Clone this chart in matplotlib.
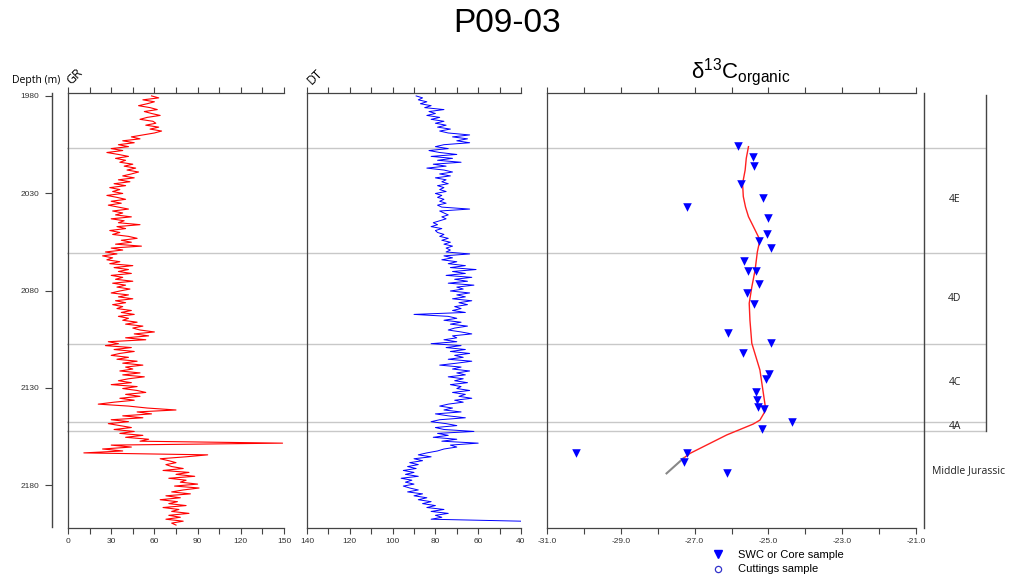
import numpy as np
import matplotlib.pyplot as plt
from matplotlib.ticker import MultipleLocator, FixedLocator, FormatStrFormatter
from matplotlib.lines import Line2D

plt.rcParams['font.family'] = ['Liberation Sans', 'DejaVu Sans']
plt.rcParams['mathtext.fontset'] = 'custom'
plt.rcParams['mathtext.rm'] = 'Liberation Sans'
plt.rcParams['axes.unicode_minus'] = False

# ---- data ------------------------------------------------------------------
# gamma ray (API), 1 m samples from 1980 m
gr = [58, 63, 52, 60, 55, 49, 57, 62, 53, 58,
      64, 55, 50, 59, 61, 54, 63, 57, 65, 60,
      52, 44, 50, 38, 46, 35, 42, 30, 38, 27,
      35, 42, 33, 40, 36, 45, 39, 47, 41, 49,
      44, 38, 46, 35, 43, 32, 40, 29, 36, 31,
      38, 27, 34, 40, 30, 37, 28, 35, 42, 31,
      38, 33, 44, 30, 39, 35, 50, 34, 40, 29,
      36, 31, 42, 48, 37, 44, 33, 51, 30, 38,
      26, 34, 24, 31, 27, 36, 29, 45, 32, 42,
      35, 44, 30, 38, 33, 45, 31, 40, 34, 43,
      36, 30, 42, 35, 45, 33, 40, 31, 38, 34,
      44, 37, 46, 35, 42, 38, 48, 40, 52, 45,
      50, 60, 46, 56, 40, 54, 28, 35, 26, 44,
      32, 46, 36, 30, 42, 34, 48, 38, 52, 40,
      45, 36, 50, 38, 53, 42, 35, 44, 30, 48,
      38, 48, 54, 40, 50, 36, 46, 32, 21, 42,
      55, 75, 48, 58, 38, 52, 30, 42, 28, 36,
      44, 32, 46, 36, 52, 40, 56, 50, 149, 30,
      44, 24, 38, 11, 97, 82, 64, 70, 75, 68,
      72, 80, 66, 84, 75, 88, 70, 82, 78, 90,
      74, 91, 80, 72, 85, 68, 78, 64, 76, 70,
      82, 66, 77, 72, 84, 70, 78, 68, 80, 72,
      75]
gr_depth = np.arange(len(gr)) + 1980

# sonic (us/ft), 1 m samples from 1980 m
dt = [89, 86, 88, 84, 87, 82, 85, 76, 83, 80,
      84, 78, 82, 76, 80, 75, 79, 73, 78, 74,
      64, 72, 65, 70, 64, 76, 80, 74, 83, 78,
      70, 82, 72, 79, 68, 81, 75, 84, 76, 72,
      78, 73, 80, 75, 77, 74, 79, 76, 78, 75,
      80, 77, 79, 76, 78, 75, 79, 77, 64, 78,
      76, 74, 77, 75, 78, 81, 79, 82, 77, 80,
      79, 76, 78, 74, 77, 73, 76, 72, 75, 73,
      75, 64, 76, 72, 77, 70, 74, 66, 73, 61,
      72, 66, 75, 63, 71, 65, 74, 62, 70, 67,
      73, 64, 70, 66, 72, 63, 69, 65, 71, 68,
      72, 66, 90, 74, 70, 76, 68, 73, 65, 71,
      74, 68, 63, 72, 70, 76, 70, 82, 68, 75,
      66, 73, 64, 71, 67, 74, 63, 70, 78, 68,
      72, 64, 70, 66, 74, 67, 71, 65, 73, 68,
      70, 64, 72, 66, 69, 63, 71, 67, 74, 78,
      72, 76, 68, 80, 74, 66, 78, 82, 75, 70,
      80, 76, 62, 79, 74, 81, 70, 77, 60, 73,
      70, 76, 79, 84, 88, 82, 90, 86, 92, 88,
      93, 89, 95, 90, 94, 88, 96, 91, 94, 90,
      95, 92, 88, 93, 86, 90, 84, 88, 82, 86,
      80, 84, 76, 82, 74, 80, 77, 82, 40]
dt_depth = np.arange(len(dt)) + 1980

# d13C organic, SWC / core samples
swc_depth = [2005.6, 2011.1, 2015.9, 2025.1, 2032.3, 2036.8, 2042.7, 2050.8,
             2054.4, 2058.1, 2064.6, 2070.0, 2069.7, 2076.6, 2081.2, 2086.7,
             2101.7, 2106.5, 2111.6, 2122.6, 2125.3, 2131.6, 2135.9, 2139.7,
             2140.7, 2147.0, 2150.8, 2163.3, 2163.3, 2167.8, 2173.1]
swc_d13c = [-25.83, -25.43, -25.39, -25.73, -25.15, -27.20, -25.00, -25.05,
            -25.25, -24.93, -25.65, -25.54, -25.34, -25.26, -25.59, -25.38,
            -26.09, -24.93, -25.68, -24.98, -25.07, -25.34, -25.31, -25.27,
            -25.12, -24.35, -25.17, -30.22, -27.20, -27.29, -26.11]

# smoothed trend
trend_depth = [2006, 2012, 2018, 2025, 2031.6, 2037, 2041.9, 2048, 2053.8, 2060,
               2069.2, 2078, 2086.3, 2095, 2106.8, 2120.5, 2141, 2146.2, 2148.2,
               2153.8, 2163.2, 2165.7]
trend_d13c = [-25.54, -25.60, -25.63, -25.70, -25.68, -25.62, -25.54, -25.38, -25.23,
              -25.30, -25.36, -25.45, -25.52, -25.50, -25.45, -25.23, -25.07, -25.23,
              -25.41, -26.13, -27.12, -27.30]
tail_depth = [2165.7, 2173.5]
tail_d13c = [-27.30, -27.76]

# formations
zone_bounds = [2006.6, 2060.3, 2107.0, 2147.3, 2151.6]
zone_names = ['4E', '4D', '4C', '4A', 'Middle Jurassic']
zone_label_depth = [2033, 2084, 2127, 2149.5, 2172]

depth_ticks = [1980, 2030, 2080, 2130, 2180]
d13c_ticks = [-31, -29, -27, -25, -23, -21]

# ---- layout -----------------------------------------------------------------
W, H = 1015, 581
TOP, BOT = 93, 528
YLIM = (2201.5, 1978.5)
SPINE = '#444444'


def box(x0, x1, y0=TOP, y1=BOT):
    return [x0 / W, 1 - y1 / H, (x1 - x0) / W, (y1 - y0) / H]


fig = plt.figure(figsize=(W / 100, H / 100), dpi=100)

# boundary lines running across all panels
bg = fig.add_axes(box(67, 986))
bg.set_ylim(*YLIM)
bg.axis('off')
for d in zone_bounds:
    bg.axhline(d, color='#c8c8c8', lw=1.0, zorder=0)


def panel(x0, x1, xlim, major, minor, fmt, labelsize=6):
    ax = fig.add_axes(box(x0, x1))
    ax.patch.set_alpha(0)
    ax.set_xlim(*xlim)
    ax.set_ylim(*YLIM)
    ax.spines['right'].set_visible(False)
    for s in ['top', 'bottom', 'left']:
        ax.spines[s].set_color(SPINE)
        ax.spines[s].set_linewidth(0.9)
    ax.set_yticks([])
    if isinstance(major, list):
        ax.xaxis.set_major_locator(FixedLocator(major))
    else:
        ax.xaxis.set_major_locator(MultipleLocator(major))
    ax.xaxis.set_minor_locator(MultipleLocator(minor))
    ax.xaxis.set_major_formatter(FormatStrFormatter(fmt))
    ax.tick_params(axis='x', which='both', top=True, bottom=True, direction='out',
                   length=4, width=0.8, color=SPINE, labelsize=labelsize,
                   labelcolor='#333333', pad=3)
    return ax


ax_gr = panel(68, 284, (0, 150), 30, 15, '%d')
ax_gr.plot(gr, gr_depth, color='#ff0000', lw=0.8)

ax_dt = panel(307, 521, (140, 40), 20, 10, '%d')
ax_dt.plot(dt, dt_depth, color='#0000ff', lw=0.7)

ax_c = panel(547, 916, (-31, -21), d13c_ticks, 1, '%.1f', labelsize=6)
ax_c.plot(trend_d13c, trend_depth, color='#ff2020', lw=1.0, zorder=3)
ax_c.plot(tail_d13c, tail_depth, color='#888888', lw=1.5, zorder=3)
ax_c.scatter(swc_d13c, swc_depth, marker='v', s=38, color='#0000ff',
             linewidths=0, zorder=4)

# zone column
ax_z = fig.add_axes(box(924, 986))
ax_z.patch.set_alpha(0)
ax_z.set_xlim(0, 1)
ax_z.set_ylim(*YLIM)
ax_z.set_xticks([])
ax_z.set_yticks([])
for s in ['top', 'bottom', 'right']:
    ax_z.spines[s].set_visible(False)
ax_z.spines['left'].set_color(SPINE)
ax_z.spines['left'].set_linewidth(1.0)
ax_z.plot([1, 1], [YLIM[1] + 1, zone_bounds[-1]], color=SPINE, lw=1.0, clip_on=False)
for name, d in zip(zone_names, zone_label_depth):
    xc = 0.72 if name == 'Middle Jurassic' else 0.5
    ax_z.text(xc, d, name, ha='center', va='center', fontsize=7.5,
              family=['Open Sans', 'DejaVu Sans'], color='#222222')

# depth axis
ax_d = fig.add_axes(box(52, 53, TOP, BOT - 1))
ax_d.patch.set_alpha(0)
ax_d.set_ylim(*YLIM)
ax_d.set_xticks([])
for s in ['top', 'bottom', 'right']:
    ax_d.spines[s].set_visible(False)
ax_d.spines['left'].set_color(SPINE)
ax_d.spines['left'].set_linewidth(1.0)
ax_d.set_yticks(depth_ticks)
ax_d.tick_params(axis='y', direction='out', length=5, width=0.8, color=SPINE,
                 labelsize=6, labelcolor='#333333', pad=4)

# texts
fig.text(507 / W, 1 - 24 / H, 'P09-03', ha='center', va='center', fontsize=24)
fig.text(12 / W, 1 - 81 / H, 'Depth (m)', ha='left', va='center', fontsize=7.5,
         family=['Open Sans', 'DejaVu Sans'])
fig.text(75 / W, 1 - 77 / H, 'GR', ha='center', va='center', fontsize=9,
         rotation=45, family=['Open Sans', 'DejaVu Sans'])
fig.text(315 / W, 1 - 77 / H, 'DT', ha='center', va='center', fontsize=9,
         rotation=45, family=['Open Sans', 'DejaVu Sans'])
fig.text(741 / W, 1 - 72 / H, r'$\mathrm{δ^{13}C_{organic}}$', ha='center',
         va='center', fontsize=16)

handles = [Line2D([], [], marker='v', ls='none', color='#0000ff', markersize=6),
           Line2D([], [], marker='o', ls='none', mfc='none', mec='#3333cc',
                  markersize=4.5, mew=0.9)]
fig.legend(handles, ['SWC or Core sample', 'Cuttings sample'], loc='upper left',
           bbox_to_anchor=(712 / W, 1 - 550 / H), frameon=False, fontsize=8,
           handlelength=1.0, handletextpad=1.3, labelspacing=0.4,
           borderpad=0, borderaxespad=0)

fig.savefig('out.png', dpi=100)
